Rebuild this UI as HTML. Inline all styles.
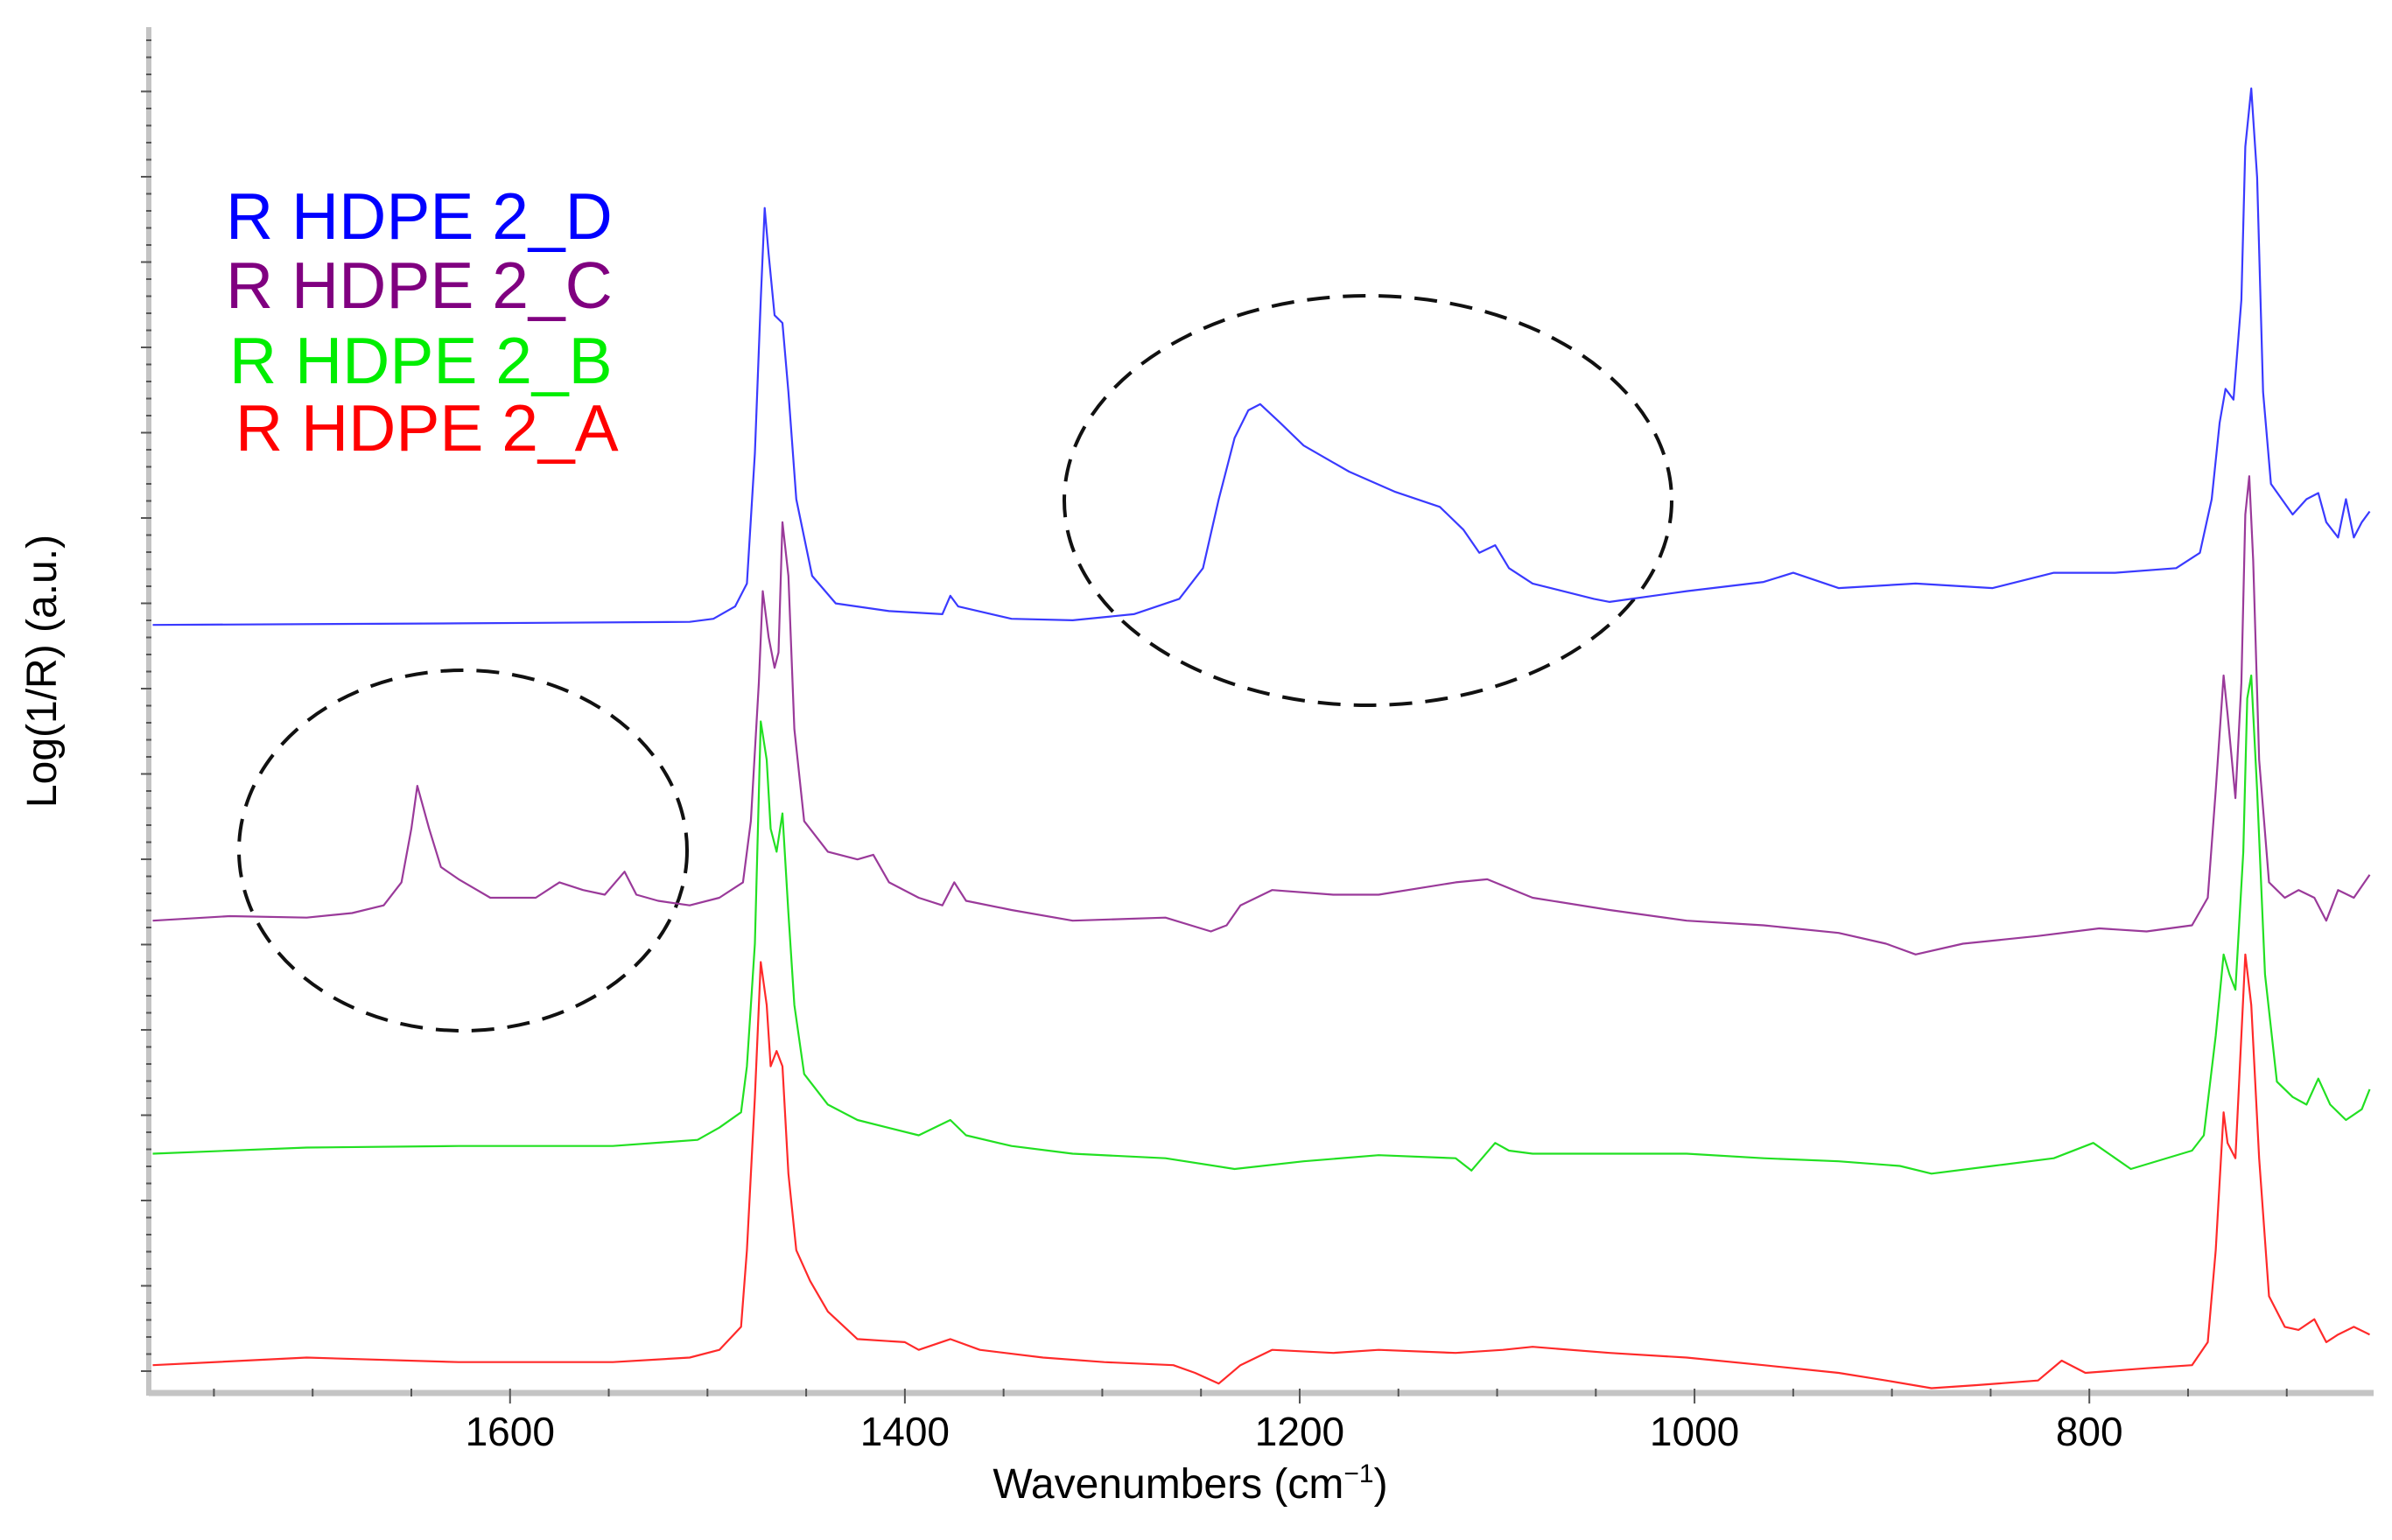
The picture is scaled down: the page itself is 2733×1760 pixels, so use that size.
<!DOCTYPE html>
<html><head><meta charset="utf-8"><style>
html,body{margin:0;padding:0;background:#fff}
svg{display:block}
text{font-family:"Liberation Sans",Arial,sans-serif}
</style></head><body>
<svg id="chart" width="2733" height="1760" viewBox="0 0 2733 1760" xmlns="http://www.w3.org/2000/svg">
<g id="annot">
<ellipse cx="1563" cy="572" rx="347" ry="234" fill="none" stroke="#111" stroke-width="4" stroke-dasharray="26,15"/>
<ellipse cx="529" cy="972" rx="256" ry="206" fill="none" stroke="#111" stroke-width="4" stroke-dasharray="26,15"/>
</g>
<g id="series"></g>
<g id="axes"></g>
<g font-size="75">
<text x="258" y="273" fill="#0000ff">R HDPE 2_D</text>
<text x="258" y="352" fill="#800080">R HDPE 2_C</text>
<text x="262" y="438" fill="#00ee00">R HDPE 2_B</text>
<text x="269" y="515" fill="#ff0000">R HDPE 2_A</text>
</g>
<text x="1360" y="1712" font-size="48" text-anchor="middle">Wavenumbers (cm<tspan font-size="30" dy="-18">−1</tspan><tspan dy="18">)</tspan></text>
<text transform="translate(64,767) rotate(-90)" font-size="48" text-anchor="middle">Log(1/R) (a.u.)</text>
</svg>
<script>
const xTickLabels = [1600, 1400, 1200, 1000, 800];
const wnD = [1781,1626,1509,1497,1486,1480,1476,1473,1471,1469,1466,1462,1459,1455,1447,1435,1408,1381,1377,1373,1346,1315,1284,1261,1249,1241,1233,1226,1220,1210,1198,1175,1152,1129,1117,1109,1101,1094,1082,1051,1043,1004,965,950,927,888,849,818,787,756,744,738,734,731,727,723,721,718,715,712,708,697,690,684,680,674,670,666,662,658];
const valD = [500,501,502,504,512,527,612,712,772,742,702,697,652,582,532,514,509,507,519,512,504,503,507,517,537,582,622,640,644,632,617,600,587,577,562,547,552,537,527,517,515,522,528,534,524,527,524,534,534,537,547,582,632,654,647,712,812,850,792,652,592,572,582,586,567,557,582,557,567,574];
const wnC = [1781,1742,1703,1680,1664,1655,1650,1647,1641,1635,1626,1610,1587,1575,1563,1552,1542,1536,1525,1509,1494,1482,1478,1474,1472,1469,1466,1464,1462,1459,1456,1451,1439,1424,1416,1408,1393,1381,1375,1369,1346,1315,1268,1245,1237,1230,1214,1183,1160,1121,1105,1082,1043,1004,965,927,903,888,864,826,795,771,748,740,736,732,730,726,723,721,719,717,714,709,701,694,686,680,674,666,658];
const valC = [307,310,309,312,317,332,367,395,367,342,334,322,322,332,327,324,339,324,320,317,322,332,372,462,522,492,472,482,567,532,432,372,352,347,350,332,322,317,332,320,314,307,309,300,304,317,327,324,324,332,334,322,314,307,304,299,292,285,292,297,302,300,304,322,392,467,442,387,462,572,597,542,412,332,322,327,322,307,327,322,337];
const wnB = [1781,1703,1626,1548,1505,1494,1483,1480,1476,1473,1470,1468,1465,1462,1459,1456,1451,1439,1424,1393,1377,1369,1346,1315,1268,1233,1198,1160,1121,1113,1101,1094,1082,1004,965,927,896,880,849,818,798,779,748,742,736,732,729,726,722,720,718,715,711,705,697,690,684,678,670,662,658];
const valB = [155,159,160,160,164,172,182,212,292,437,412,367,352,377,312,252,207,187,177,167,177,167,160,155,152,145,150,154,152,144,162,157,155,155,152,150,147,142,147,152,162,145,157,167,232,285,272,262,352,452,467,392,272,202,192,187,204,187,177,184,197];
const wnA = [1781,1703,1626,1548,1509,1494,1483,1480,1476,1473,1470,1468,1465,1462,1459,1455,1448,1439,1424,1400,1393,1377,1362,1330,1299,1264,1253,1241,1230,1214,1183,1160,1121,1097,1082,1043,1004,965,927,903,880,857,826,814,802,771,748,740,736,732,730,726,723,721,718,714,709,701,694,686,680,674,666,658];
const valA = [17,22,19,19,22,27,42,92,192,280,252,212,222,212,142,92,72,52,34,32,27,34,27,22,19,17,12,5,17,27,25,27,25,27,29,25,22,17,12,7,2,4,7,20,12,15,17,32,92,182,162,152,232,285,252,152,62,42,40,47,32,37,42,37];

const NS = 'http://www.w3.org/2000/svg';
const X0 = 170, X1 = 2712, Y0 = 1590, Y1 = 31;
const WN_LEFT = 1783, WN_RIGHT = 656, V_MIN = 0, V_MAX = 890;
function xScale(w){ return X0 + (WN_LEFT - w) / (WN_LEFT - WN_RIGHT) * (X1 - X0); }
function yScale(v){ return Y0 - (v - V_MIN) / (V_MAX - V_MIN) * (Y0 - Y1); }

const seriesG = document.getElementById('series');
function drawSeries(wn, vals, color, name){
  let d = '';
  for (let i = 0; i < wn.length; i++) {
    d += (i ? 'L' : 'M') + xScale(wn[i]).toFixed(1) + ',' + yScale(vals[i]).toFixed(1);
  }
  const p = document.createElementNS(NS, 'path');
  p.setAttribute('d', d);
  p.setAttribute('fill', 'none');
  p.setAttribute('stroke', color);
  p.setAttribute('stroke-width', '2.2');
  p.setAttribute('stroke-linejoin', 'round');
  
  
  seriesG.appendChild(p);
}
drawSeries(wnD, valD, '#3a3aff', 'series-r-hdpe-2-d');
drawSeries(wnC, valC, '#9a3a9a', 'series-r-hdpe-2-c');
drawSeries(wnB, valB, '#22e022', 'series-r-hdpe-2-b');
drawSeries(wnA, valA, '#ff2a2a', 'series-r-hdpe-2-a');

const axes = document.getElementById('axes');
function line(x1,y1,x2,y2,stroke,w,name){
  const l = document.createElementNS(NS,'line');
  l.setAttribute('x1',x1);l.setAttribute('y1',y1);l.setAttribute('x2',x2);l.setAttribute('y2',y2);
  l.setAttribute('stroke',stroke);l.setAttribute('stroke-width',w);
  
  
  axes.appendChild(l);
}
line(X0, Y0+2, X1, Y0+2, '#c4c4c4', 7, 'x-axis-line');
line(X0, Y1, X0, Y0+5, '#c4c4c4', 6, 'y-axis-line');
for (let w = 1750; w >= 700; w -= 50) {
  const x = xScale(w);
  const major = (w % 200 === 0);
  line(x, Y0-3, x, Y0 + (major ? 14 : 6), '#555', 2, major ? 'x-major-tick' : 'x-minor-tick');
}
xTickLabels.forEach(v => {
  const t = document.createElementNS(NS,'text');
  t.setAttribute('x', xScale(v)); t.setAttribute('y', 1652);
  t.setAttribute('font-size','46'); t.setAttribute('text-anchor','middle');
  t.textContent = v;
  
  
  axes.appendChild(t);
});
for (let k = -40; k < 60; k++) {
  const y = 592 + 19.5 * k;
  if (y < Y1 + 10 || y > Y0 - 5) continue;
  const major = (k % 5 === 0);
  line(X0 - (major ? 9 : 3), y, X0 + 3, y, '#555', 2, major ? 'y-major-tick' : 'y-minor-tick');
}
</script>
</body></html>
